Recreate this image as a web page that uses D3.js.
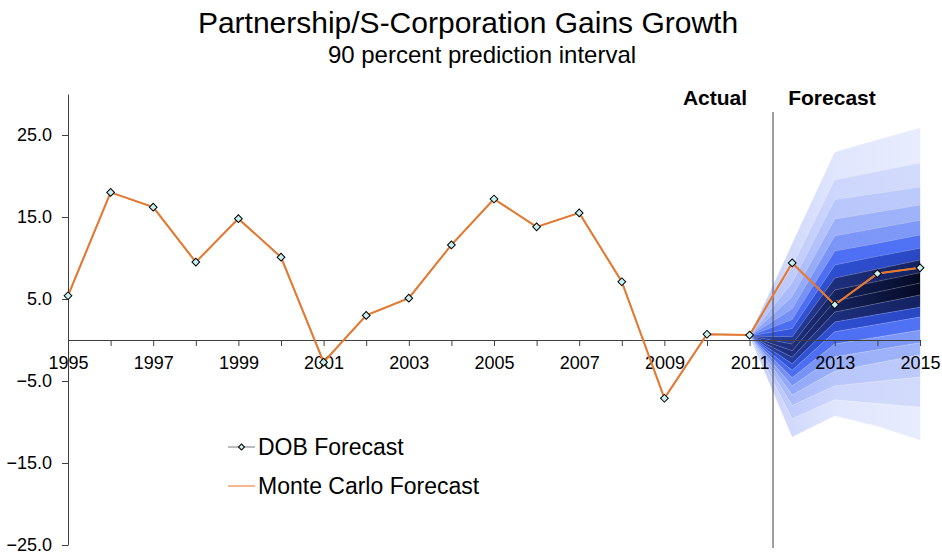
<!DOCTYPE html>
<html><head><meta charset="utf-8">
<script src="https://cdn.jsdelivr.net/npm/d3@7"></script>
<style>body{margin:0;background:#fff}svg{display:block;font-family:"Liberation Sans",Arial,sans-serif}</style>
</head><body><svg id="c" width="942" height="559"></svg>
<script>
// ---- data ----
const years = [1995,1996,1997,1998,1999,2000,2001,2002,2003,2004,2005,2006,2007,2008,2009,2010,2011,2012,2013,2014,2015];
const dobForecast = [5.4,18.0,16.2,9.5,14.8,10.1,-2.7,3.0,5.1,11.6,17.2,13.8,15.5,7.1,-7.1,0.7,0.6,9.4,4.3,8.1,8.8];
const monteCarloForecast = [5.4,18.0,16.2,9.5,14.8,10.1,-2.7,3.0,5.1,11.6,17.2,13.8,15.5,7.1,-7.1,0.7,0.6,9.4,4.3,8.1,8.8];
const yTicks = [-25,-15,-5,5,15,25];
const xTickLabels = [1995,1997,1999,2001,2003,2005,2007,2009,2011,2013,2015];
// fan chart: percentile boundaries, 95th down to 5th
const fanYears = [2011,2012,2013,2014,2015];
const fan2011 = [0.5,0.5,0.5,0.5,0.5,0.5,0.5,0.5,0.5,0.5,0.5,0.5,0.5,0.5,0.5,0.5,0.5,0.5,0.5];
const fan2012 = [11.7,9.0,7.0,5.3,3.8,2.5,1.4,0.4,-0.5,-1.3,-2.1,-2.9,-3.7,-4.6,-5.6,-6.7,-8.0,-9.6,-11.8];
const fan2013 = [22.9,19.5,17.1,14.75,12.7,10.85,9.15,7.55,6.1,4.75,3.4,2.2,1.0,-0.5,-2.05,-3.8,-5.6,-7.3,-9.25];
const fan2014 = [24.4,20.55,17.9,15.6,13.65,11.8,10.2,8.65,7.15,5.85,4.45,3.1,1.9,0.35,-1.2,-2.8,-5.05,-7.75,-10.5];
const fan2015 = [25.85,21.6,18.65,16.45,14.6,12.8,11.2,9.75,8.2,6.95,5.5,4.0,2.8,1.2,-0.35,-1.8,-4.5,-8.2,-12.2];
// band colours (outer -> inner) at the left (2011), middle (2013) and right (2015) of the fan
const bandColorsLeft  = ['#c4cefa','#b3c1fa','#a0b2f9','#8ba1f8','#6f8cf6','#4b6cf2','#3558e0','#2a45b8','#22389a'];
const bandColorsMid   = ['#e0e6fd','#cdd6fc','#b8c6fb','#9bb0f9','#7b96f7','#4e6ff4','#2d4ecf','#1d2f7c','#15235e'];
const bandColorsRight = ['#e8ecfe','#d3dbfc','#bccafb','#9fb3f9','#7f99f7','#5072f4','#2a48c4','#142260','#050a24'];

// ---- layout ----
const svg = d3.select('#c');
const x = d3.scaleLinear().domain([1995,2015]).range([68,920]);
const y = d3.scaleLinear().domain([-25,30]).range([545,94]);
const axisColor = '#404040';

// titles
svg.append('text').attr('x',468).attr('y',33).attr('text-anchor','middle')
  .attr('font-size',30).text('Partnership/S-Corporation Gains Growth');
svg.append('text').attr('x',482).attr('y',63).attr('text-anchor','middle')
  .attr('font-size',24).text('90 percent prediction interval');

// gradients
const defs = svg.append('defs');
bandColorsMid.forEach((c,i)=>{
  const g = defs.append('linearGradient').attr('id','band'+i)
    .attr('gradientUnits','userSpaceOnUse')
    .attr('x1',x(fanYears[0])).attr('x2',x(fanYears[fanYears.length-1])).attr('y1',0).attr('y2',0);
  g.append('stop').attr('offset',0).attr('stop-color',bandColorsLeft[i]);
  g.append('stop').attr('offset',0.5).attr('stop-color',c);
  g.append('stop').attr('offset',1).attr('stop-color',bandColorsRight[i]);
});

// fan
const fanRows = [fan2011,fan2012,fan2013,fan2014,fan2015];
const nB = fan2011.length;
const fanG = svg.append('g');
const area = d3.area().x(d=>x(d.year)).y0(d=>y(d.lo)).y1(d=>y(d.hi));
for (let k=0;k<nB-1;k++){
  const pts = fanYears.map((yr,i)=>({year:yr,hi:fanRows[i][k],lo:fanRows[i][k+1]}));
  const lvl = Math.min(k, nB-2-k);
  fanG.append('path').attr('d',area(pts)).attr('fill',`url(#band${lvl})`)
    .attr('stroke',`url(#band${lvl})`).attr('stroke-width',0.3);
}
const bline = d3.line().x(d=>x(d.year)).y(d=>y(d.v));
for (let k=1;k<nB-1;k++){
  const pts = fanYears.map((yr,i)=>({year:yr,v:fanRows[i][k]}));
  fanG.append('path').attr('d',bline(pts)).attr('fill','none')
    .attr('stroke','rgba(255,255,255,0.25)').attr('stroke-width',0.7);
}

// y axis
const yAxis = d3.axisLeft(y).tickValues(yTicks).tickFormat(d3.format('.1f')).tickSize(6).tickPadding(10).tickSizeOuter(0);
const yg = svg.append('g').attr('transform','translate(68,0)').call(yAxis);
yg.select('.domain').attr('stroke',axisColor);
yg.selectAll('.tick line').attr('stroke',axisColor);
yg.selectAll('.tick text').attr('font-size',18).attr('fill','#000').attr('font-family','"Liberation Sans",Arial,sans-serif');

// x axis at zero
const xAxis = d3.axisBottom(x).tickValues(years).tickSize(6).tickSizeOuter(0)
  .tickFormat(d=>xTickLabels.includes(d)?String(d):'').tickPadding(10);
const xg = svg.append('g').attr('transform',`translate(0,${y(0)})`).call(xAxis);
xg.select('.domain').attr('stroke',axisColor);
xg.selectAll('.tick line').attr('stroke',axisColor);
xg.selectAll('.tick text').attr('font-size',18).attr('fill','#000').attr('font-family','"Liberation Sans",Arial,sans-serif');

// actual/forecast divider
const divX = x(2011.55);
svg.append('line').attr('x1',divX).attr('x2',divX).attr('y1',112).attr('y2',548)
  .attr('stroke',axisColor).attr('stroke-width',1);
svg.append('text').attr('x',715).attr('y',105).attr('text-anchor','middle')
  .attr('font-size',21).attr('font-weight','bold').text('Actual');
svg.append('text').attr('x',832).attr('y',105).attr('text-anchor','middle')
  .attr('font-size',21).attr('font-weight','bold').text('Forecast');

// series
const line = d3.line().x((d,i)=>x(years[i])).y(d=>y(d));
svg.append('path').attr('d',line(dobForecast)).attr('fill','none').attr('stroke','#a6a6a6').attr('stroke-width',1.5);
svg.append('path').attr('d',line(monteCarloForecast)).attr('fill','none').attr('stroke','#e8782d').attr('stroke-width',2);
const diamond = d3.symbol(d3.symbolSquare, 30);
svg.append('g').selectAll('path').data(dobForecast).join('path')
  .attr('d',diamond).attr('transform',(d,i)=>`translate(${x(years[i])},${y(d)}) rotate(45)`)
  .attr('fill','#c9f0f0').attr('stroke','#000').attr('stroke-width',1);

// legend
const lg = svg.append('g');
lg.append('line').attr('x1',228).attr('x2',255).attr('y1',447).attr('y2',447).attr('stroke','#a6a6a6').attr('stroke-width',1.5);
lg.append('path').attr('d',d3.symbol(d3.symbolSquare,18)).attr('transform','translate(241.5,447) rotate(45)')
  .attr('fill','#c9f0f0').attr('stroke','#000').attr('stroke-width',1);
lg.append('text').attr('x',258).attr('y',455).attr('font-size',23).text('DOB Forecast');
lg.append('line').attr('x1',228).attr('x2',255).attr('y1',486).attr('y2',486).attr('stroke','#f2a06a').attr('stroke-width',1.5);
lg.append('text').attr('x',258).attr('y',494).attr('font-size',23).text('Monte Carlo Forecast');
</script></body></html>
